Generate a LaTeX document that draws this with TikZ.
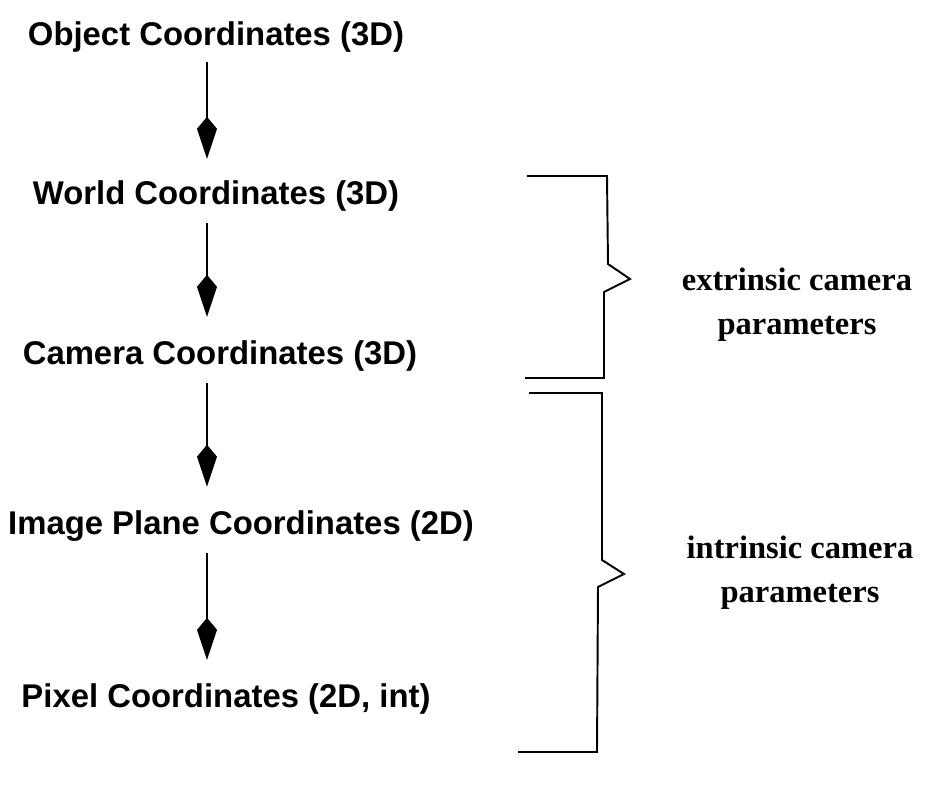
\documentclass[tikz,border=0pt]{standalone}
\usepackage{fontspec}
\setmainfont{Liberation Serif}
\setsansfont{Liberation Sans}
\usetikzlibrary{arrows.meta}
\tikzset{
  coord/.style={font=\sffamily\bfseries\fontsize{18.7}{22}\selectfont, inner sep=2pt},
  param/.style={font=\rmfamily\bfseries\fontsize{18.5}{25}\selectfont, align=center},
  link/.style={line width=0.8pt, -{Kite[length=0.84cm, width=0.4cm, inset=0.24cm]}},
  brace/.style={line width=1.1pt, line join=miter}
}
\begin{document}
\begin{tikzpicture}
	\useasboundingbox (0,0) rectangle (18.64,15.7);
	% coordinate systems
	\node[coord] (obj) at (4.32,14.96) {Object Coordinates (3D)};
	\node[coord] (world) at (4.32,11.78) {World Coordinates (3D)};
	\node[coord] (cam) at (4.40,8.58) {Camera Coordinates (3D)};
	\node[coord] (img) at (4.82,5.18) {Image Plane Coordinates (2D)};
	\node[coord] (pix) at (4.52,1.72) {Pixel Coordinates (2D, int)};
	\coordinate (ax) at (4.14,0);
	\draw[link, shorten <=0.12cm, shorten >=0.36cm] (obj.south -| ax) -- (world.north -| ax);
	\draw[link, shorten <=0.16cm, shorten >=0.4cm] (world.south -| ax) -- (cam.north -| ax);
	\draw[link, shorten <=0.16cm, shorten >=0.4cm] (cam.south -| ax) -- (img.north -| ax);
	\draw[link, shorten <=0.16cm, shorten >=0.4cm] (img.south -| ax) -- (pix.north -| ax);
	% braces
	\draw[brace] (10.54,12.18) -- (12.14,12.18) -- (12.16,10.42) -- (12.6,10.12)
		-- (12.08,9.86) -- (12.08,8.14) -- (10.5,8.14);
	\draw[brace] (10.58,7.84) -- (12.04,7.84) -- (12.04,4.5) -- (12.48,4.22)
		-- (11.96,3.96) -- (11.94,0.66) -- (10.36,0.66);
	\node[param] (extr) at (15.94,9.6) {extrinsic camera\\parameters};
	\node[param] (intr) at (16.0,4.24) {intrinsic camera\\parameters};
\end{tikzpicture}
\end{document}
